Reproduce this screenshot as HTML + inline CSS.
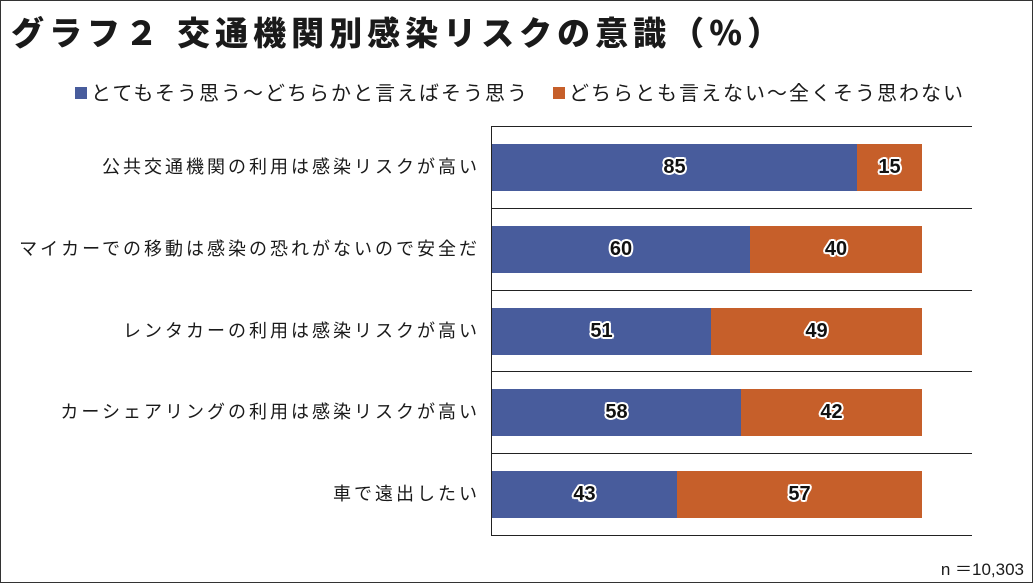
<!DOCTYPE html>
<html><head><meta charset="utf-8"><style>
body{margin:0;background:#fff;}
#c{position:relative;width:1031px;height:581px;border:1px solid #333;overflow:hidden;font-family:"Liberation Sans","Noto Sans CJK JP",sans-serif;color:#1a1a1a;}
.t{position:absolute;left:10px;top:6px;font-size:33px;font-weight:900;letter-spacing:5px;white-space:nowrap}
.lg{position:absolute;top:76px;font-size:20px;white-space:nowrap;letter-spacing:2px}
.sq{display:inline-block;width:12px;height:12px;margin-right:4px;vertical-align:1px}
.hl{position:absolute;left:490px;width:481px;height:1px;background:#222}
.ax{position:absolute;left:490px;top:125px;width:1px;height:410px;background:#222}
.b{position:absolute;height:47px;display:flex;align-items:center;justify-content:center;font-size:20px;font-weight:bold;color:#111;text-shadow:-2px 0 #fff,2px 0 #fff,0 -2px #fff,0 2px #fff,-1.5px -1.5px #fff,1.5px 1.5px #fff,-1.5px 1.5px #fff,1.5px -1.5px #fff}
.bl{background:#485c9c}.or{background:#c65f2a}
.lb{position:absolute;right:552px;font-size:18px;white-space:nowrap;letter-spacing:3px;line-height:47px}
.n{position:absolute;right:8px;top:554px;font-size:17px}
</style></head><body><div id="c">
<div class="t">グラフ２ 交通機関別感染リスクの意識（％）</div>
<div class="lg" style="left:74px"><span class="sq bl"></span>とてもそう思う～どちらかと言えばそう思う</div>
<div class="lg" style="left:552px"><span class="sq or"></span>どちらとも言えない～全くそう思わない</div>
<div class="hl" style="top:125px"></div><div class="hl" style="top:207px"></div><div class="hl" style="top:289px"></div><div class="hl" style="top:370px"></div><div class="hl" style="top:452px"></div><div class="hl" style="top:534px"></div>
<div class="ax"></div>

<div class="lb" style="top:143px">公共交通機関の利用は感染リスクが高い</div>
<div class="b bl" style="top:143px;left:491px;width:365px">85</div><div class="b or" style="top:143px;left:856px;width:65px">15</div>

<div class="lb" style="top:225px">マイカーでの移動は感染の恐れがないので安全だ</div>
<div class="b bl" style="top:225px;left:491px;width:258px">60</div><div class="b or" style="top:225px;left:749px;width:172px">40</div>

<div class="lb" style="top:307px">レンタカーの利用は感染リスクが高い</div>
<div class="b bl" style="top:307px;left:491px;width:219px">51</div><div class="b or" style="top:307px;left:710px;width:211px">49</div>

<div class="lb" style="top:388px">カーシェアリングの利用は感染リスクが高い</div>
<div class="b bl" style="top:388px;left:491px;width:249px">58</div><div class="b or" style="top:388px;left:740px;width:181px">42</div>

<div class="lb" style="top:470px">車で遠出したい</div>
<div class="b bl" style="top:470px;left:491px;width:185px">43</div><div class="b or" style="top:470px;left:676px;width:245px">57</div>

<div class="n">n ＝10,303</div>
</div></body></html>
